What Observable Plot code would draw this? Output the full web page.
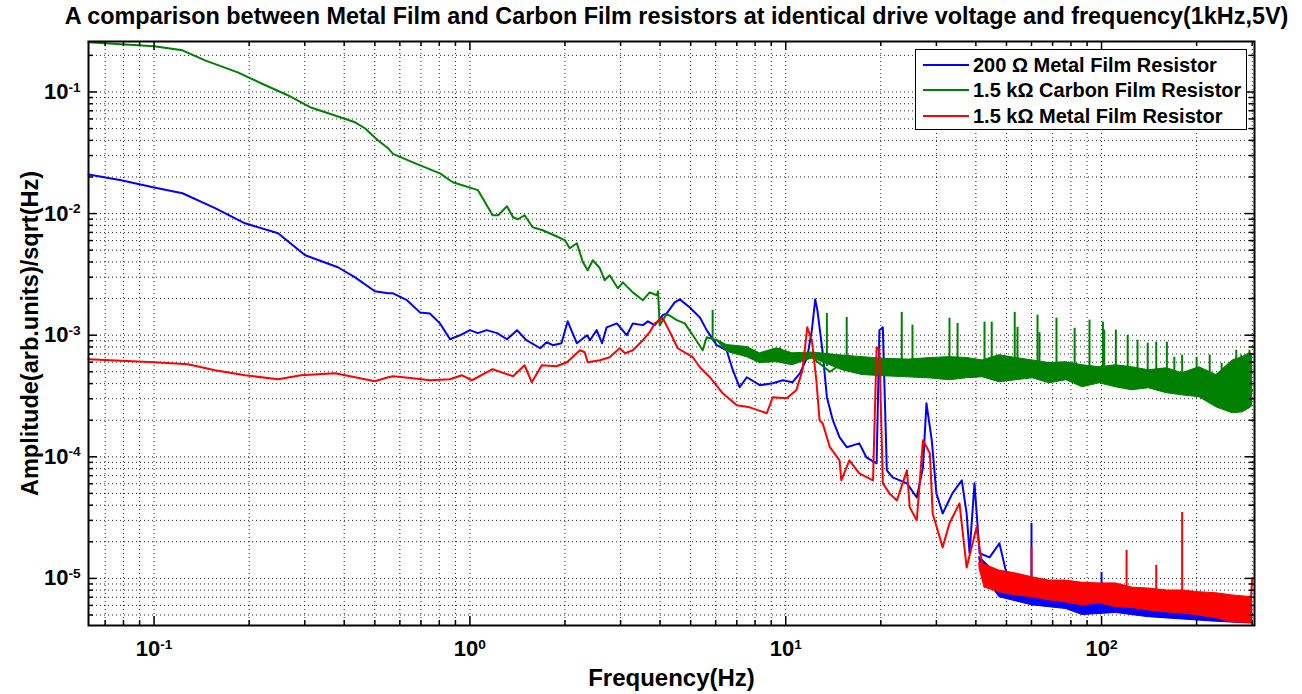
<!DOCTYPE html>
<html><head><meta charset="utf-8">
<script src="https://cdn.jsdelivr.net/npm/d3@7"></script>
<script src="https://cdn.jsdelivr.net/npm/@observablehq/plot@0.6"></script>
<style>
body{margin:0;background:#fff;font-family:"Liberation Sans",Arial,sans-serif;}
#wrap{position:relative;width:1302px;height:694px;overflow:hidden;}
#legend{position:absolute;left:915px;top:49px;width:332px;height:81px;border:1px solid #000;background:#fff;box-sizing:border-box;font-weight:bold;font-size:20px;color:#000;}
.row{position:absolute;left:0;height:24px;display:flex;align-items:center;white-space:nowrap;}
.sw{width:46px;height:0;border-top:2px solid;margin-left:7px;margin-right:4px;}
</style></head><body><div id="wrap"></div>
<script>
// ---- data ----
const title = "A comparison between Metal Film and Carbon Film resistors at identical drive voltage and frequency(1kHz,5V)";
const xLabel = "Frequency(Hz)";
const yLabel = "Amplitude(arb.units)/sqrt(Hz)";
const seriesNames = ["200 \u03A9 Metal Film Resistor", "1.5 k\u03A9 Carbon Film Resistor", "1.5 k\u03A9 Metal Film Resistor"];
const seriesColors = ["#0000ff", "#008000", "#ff0000"];

const xMajor = [0.1, 1, 10, 100];
const xMinor = [0.07, 0.08, 0.09, 0.2, 0.3, 0.4, 0.5, 0.6, 0.7, 0.8, 0.9, 2, 3, 4, 5, 6, 7, 8, 9, 20, 30, 40, 50, 60, 70, 80, 90, 200, 300];
const yMajor = [1e-5, 1e-4, 1e-3, 1e-2, 1e-1];
const yMinor = [5e-6, 6e-6, 7e-6, 8e-6, 9e-6, 2e-5, 3e-5, 4e-5, 5e-5, 6e-5, 7e-5, 8e-5, 9e-5, 2e-4, 3e-4, 4e-4, 5e-4, 6e-4, 7e-4, 8e-4, 9e-4, 2e-3, 3e-3, 4e-3, 5e-3, 6e-3, 7e-3, 8e-3, 9e-3, 2e-2, 3e-2, 4e-2, 5e-2, 6e-2, 7e-2, 8e-2, 9e-2, 2e-1];

// 200 ohm metal film (blue)
const blueFreq = [0.062, 0.0787, 0.1, 0.123, 0.156, 0.194, 0.247, 0.301, 0.382, 0.433, 0.5, 0.551, 0.571, 0.632, 0.695, 0.747, 0.804, 0.865, 0.93, 1.0, 1.06, 1.13, 1.22, 1.31, 1.41, 1.51, 1.67, 1.75, 1.83, 1.95, 2.04, 2.18, 2.35, 2.40, 2.52, 2.62, 2.71, 2.92, 3.14, 3.28, 3.53, 3.66, 3.85, 4.08, 4.20, 4.45, 4.62, 4.97, 5.35, 5.62, 6.05, 6.50, 6.80, 7.15, 7.53, 8.28, 9.10, 9.79, 10.5, 11.1, 11.7, 12.1, 12.4, 12.6, 13.1, 13.5, 14.1, 14.8, 15.6, 17.1, 18.0, 19.4, 19.8, 20.3, 20.9, 21.8, 24.2, 26.0, 27.2, 27.9, 29.0, 30.0, 31.4, 33.7, 36.1, 37.4, 38.2, 39.6, 41.1, 44.2, 47.5, 50, 55, 62, 70, 80, 87, 95, 104, 120, 140, 160, 180, 200, 230, 260, 300];
const blueAmp = [0.021, 0.0188, 0.0164, 0.0147, 0.0111, 0.00832, 0.00689, 0.00454, 0.00362, 0.00299, 0.0023, 0.00221, 0.00221, 0.00194, 0.00154, 0.00151, 0.00125, 0.000926, 0.000998, 0.0011, 0.00104, 0.0011, 0.00104, 0.000926, 0.0011, 0.000909, 0.000781, 0.000875, 0.000827, 0.000859, 0.0013, 0.000859, 0.000998, 0.000909, 0.0011, 0.000859, 0.00116, 0.00125, 0.000998, 0.00125, 0.00121, 0.0013, 0.00121, 0.00146, 0.00151, 0.00186, 0.00197, 0.00169, 0.0014, 0.0011, 0.000827, 0.000752, 0.000515, 0.000373, 0.000451, 0.000388, 0.000402, 0.000426, 0.00041, 0.000487, 0.000659, 0.0011, 0.00197, 0.0016, 0.000711, 0.000309, 0.0002, 0.000145, 0.00012, 0.000129, 0.0000991, 0.0000884, 0.0011, 0.00116, 0.0000774, 0.0000678, 0.0000605, 0.0000463, 0.0000819, 0.000275, 0.000137, 0.00005, 0.0000342, 0.00005, 0.000064, 0.0000342, 0.0000161, 0.0000605, 0.0000161, 0.0000149, 0.0000194, 0.000011, 0.0000105, 0.0000095, 0.000009, 0.0000085, 0.000006, 0.000008, 0.0000075, 0.000007, 0.0000065, 0.000006, 0.0000055, 0.0000058, 0.000005, 0.0000052, 0.000005];
const blueBandFreq = [41.1, 44.2, 47.5, 60.5, 77.3, 87.1, 111, 141, 180, 231, 300];
const blueBandHigh = [1.5e-5, 1.25e-5, 1.05e-5, 9.0e-6, 8.5e-6, 8.0e-6, 8.0e-6, 7.2e-6, 7.0e-6, 6.5e-6, 6.0e-6];
const blueBandLow = [1.4e-5, 9.0e-6, 7.0e-6, 6.0e-6, 5.6e-6, 5.0e-6, 5.2e-6, 4.8e-6, 4.6e-6, 4.4e-6, 4.25e-6];
const blueSpikeFreq = [60, 100];
const blueSpikePeak = [2.84e-5, 1.12e-5];
const blueSpikeBase = [9e-6, 7.5e-6];

// 1.5 kohm carbon film (green)
const greenFreq = [0.062, 0.0787, 0.1, 0.123, 0.145, 0.184, 0.218, 0.265, 0.312, 0.356, 0.433, 0.465, 0.511, 0.551, 0.571, 0.66, 0.804, 0.883, 1.06, 1.18, 1.23, 1.31, 1.37, 1.42, 1.49, 1.58, 1.70, 1.88, 2.0, 2.07, 2.18, 2.28, 2.36, 2.45, 2.58, 2.67, 2.77, 2.94, 3.05, 3.28, 3.53, 3.71, 3.91, 3.94, 3.99, 4.20, 4.52, 4.79, 5.08, 5.46, 5.62, 6.05, 6.50, 7.15, 7.53, 8.28, 9.10, 9.57, 10.5, 11.1, 12.2, 13.8, 15.1, 16.3, 17.5, 18.9, 19.8, 22.5, 24.2, 26.6, 29.2, 33.8, 37.4, 43.6, 47.5, 55, 65, 75, 86, 96, 105, 115, 125, 135, 144, 155, 165, 175, 190, 210, 230, 255, 280, 300];
const greenAmp = [0.256, 0.247, 0.238, 0.220, 0.182, 0.145, 0.118, 0.094, 0.0749, 0.0668, 0.0563, 0.0503, 0.0401, 0.0344, 0.031, 0.0264, 0.0214, 0.0181, 0.0156, 0.00969, 0.00969, 0.0115, 0.00933, 0.00898, 0.00969, 0.00771, 0.00729, 0.00651, 0.00603, 0.00519, 0.0057, 0.00398, 0.00342, 0.00413, 0.00355, 0.00283, 0.00311, 0.00243, 0.00272, 0.00225, 0.00194, 0.00225, 0.00213, 0.0023, 0.0012, 0.0015, 0.00133, 0.00125, 0.000998, 0.000752, 0.000962, 0.000909, 0.000796, 0.000711, 0.000796, 0.000599, 0.000659, 0.000781, 0.000623, 0.000711, 0.000647, 0.0005, 0.000588, 0.00052, 0.000623, 0.000487, 0.000588, 0.000545, 0.00048, 0.00052, 0.000588, 0.00055, 0.000545, 0.0005, 0.000515, 0.00052, 0.00048, 0.0005, 0.00047, 0.00048, 0.00045, 0.00046, 0.00044, 0.00043, 0.00042, 0.00041, 0.0004, 0.00038, 0.00037, 0.00036, 0.00033, 0.00032, 0.00031, 0.00035];
const greenBandFreq = [6.05, 6.5, 7.53, 8.28, 9.37, 10.5, 12.2, 15.1, 17.5, 20.3, 24.5, 29, 33, 37.4, 42, 47.5, 53.5, 60.5, 68.4, 77.3, 87.1, 98.6, 111, 125, 141, 161, 180, 204, 231, 260, 280, 294, 300];
const greenBandHigh = [9.2e-4, 8.3e-4, 8.0e-4, 7.1e-4, 7.8e-4, 7.1e-4, 7.2e-4, 6.8e-4, 6.6e-4, 6.4e-4, 6.3e-4, 6.5e-4, 6.6e-4, 6.5e-4, 6.2e-4, 6.85e-4, 6.5e-4, 6.2e-4, 5.9e-4, 6.0e-4, 5.66e-4, 5.45e-4, 5.66e-4, 5.45e-4, 5.15e-4, 5.35e-4, 4.87e-4, 5.45e-4, 4.7e-4, 6.2e-4, 6.6e-4, 7.1e-4, 7.0e-4];
const greenBandLow = [9.0e-4, 7.3e-4, 6.6e-4, 5.9e-4, 6.0e-4, 5.66e-4, 6.47e-4, 5.15e-4, 4.7e-4, 4.6e-4, 4.5e-4, 4.4e-4, 4.26e-4, 4.42e-4, 4.51e-4, 4.1e-4, 4.26e-4, 4.42e-4, 4.02e-4, 4.26e-4, 3.73e-4, 4.02e-4, 3.73e-4, 3.52e-4, 3.66e-4, 3.33e-4, 3.2e-4, 3.09e-4, 2.55e-4, 2.28e-4, 2.32e-4, 2.5e-4, 2.6e-4];
const greenSpikeFreq = [5.87, 13.5, 15.6, 23.3, 25.2, 33.0, 35.0, 42.6, 44.9, 53.1, 54.2, 62.7, 63.6, 72.0, 82.2, 91.6, 101, 102, 111, 121, 130, 140, 149, 161, 170, 180, 200, 220, 240, 267, 277, 294];
const greenSpikePeak = [0.0016, 0.00151, 0.0014, 0.00154, 0.00121, 0.00138, 0.00125, 0.00128, 0.00128, 0.00154, 0.00116, 0.00146, 0.00105, 0.00138, 0.00114, 0.00133, 0.00128, 0.0011, 0.0011, 0.000998, 0.000909, 0.000859, 0.000875, 0.000875, 0.000659, 0.000685, 0.000659, 0.000685, 0.000588, 0.000752, 0.000685, 0.000752];
const greenSpikeBase = [0.0009, 0.00055, 0.00055, 0.0005, 0.0005, 0.0005, 0.0005, 0.0005, 0.0005, 0.0005, 0.0005, 0.00049, 0.00049, 0.00048, 0.00048, 0.00047, 0.00046, 0.00046, 0.00045, 0.00044, 0.00043, 0.00042, 0.00041, 0.0004, 0.00039, 0.00038, 0.00036, 0.00035, 0.00033, 0.00032, 0.00032, 0.00033];

// 1.5 kohm metal film (red)
const redFreq = [0.062, 0.1, 0.128, 0.156, 0.194, 0.247, 0.292, 0.374, 0.433, 0.5, 0.551, 0.571, 0.66, 0.747, 0.865, 0.944, 1.015, 1.18, 1.37, 1.49, 1.57, 1.69, 1.88, 2.03, 2.23, 2.31, 2.36, 2.58, 2.77, 2.98, 3.10, 3.28, 3.53, 3.71, 3.85, 4.08, 4.30, 4.55, 5.08, 5.35, 5.75, 6.32, 7.0, 7.69, 8.71, 9.10, 10.07, 10.8, 11.3, 11.7, 12.1, 12.5, 12.8, 13.1, 13.8, 14.8, 15.0, 15.9, 17.1, 18.9, 19.4, 19.8, 20.3, 21.3, 22.5, 24.2, 24.7, 26.0, 27.2, 28.6, 29.2, 31.4, 33.0, 35.5, 37.4, 40.2, 42.0, 45, 50, 55, 62, 75, 90, 110, 123, 140, 152, 170, 183, 220, 260, 295, 300];
const redAmp = [0.000635, 0.000599, 0.000577, 0.000515, 0.000468, 0.000434, 0.000468, 0.000487, 0.000451, 0.000418, 0.000451, 0.000459, 0.000442, 0.000426, 0.000434, 0.000468, 0.000426, 0.000525, 0.000459, 0.000566, 0.00041, 0.000566, 0.000555, 0.000599, 0.000752, 0.000724, 0.000599, 0.000623, 0.000659, 0.000781, 0.000711, 0.000752, 0.000909, 0.00106, 0.00125, 0.00138, 0.00106, 0.000781, 0.000659, 0.000545, 0.000451, 0.000333, 0.000265, 0.000255, 0.000228, 0.000309, 0.000303, 0.000352, 0.000515, 0.00116, 0.000909, 0.000426, 0.0002, 0.000188, 0.00012, 0.0000935, 0.000064, 0.0000935, 0.0000731, 0.000064, 0.000796, 0.000752, 0.0000605, 0.00005, 0.0000438, 0.0000774, 0.0000384, 0.00003, 0.000137, 0.000107, 0.0000342, 0.000018, 0.0000284, 0.0000414, 0.0000123, 0.0000263, 0.0000123, 0.00001, 0.0000095, 0.000009, 0.0000085, 0.000008, 0.0000075, 0.0000072, 0.000007, 0.0000068, 0.0000066, 0.0000064, 0.0000062, 0.0000058, 0.0000055, 0.0000052, 0.00001];
const redBandFreq = [41.1, 42.6, 47.5, 53.5, 60.5, 68.4, 77.3, 87.1, 98.6, 111, 125, 141, 161, 180, 204, 231, 260, 300];
const redBandHigh = [1.35e-5, 1.3e-5, 1.16e-5, 1.1e-5, 1.02e-5, 9.6e-6, 9.6e-6, 9.2e-6, 9.1e-6, 9.1e-6, 8.4e-6, 8.25e-6, 7.95e-6, 7.95e-6, 7.7e-6, 7.55e-6, 7.25e-6, 7.0e-6];
const redBandLow = [1.2e-5, 8.4e-6, 7.7e-6, 7.25e-6, 7.0e-6, 6.6e-6, 6.35e-6, 6.0e-6, 6.25e-6, 5.8e-6, 5.7e-6, 5.45e-6, 5.25e-6, 5.15e-6, 4.95e-6, 4.7e-6, 4.35e-6, 4.3e-6];
const redSpikeFreq = [60, 120, 149, 180];
const redSpikePeak = [1.8e-5, 1.7e-5, 1.28e-5, 3.49e-5];
const redSpikeBase = [8.5e-6, 7e-6, 6.8e-6, 6.3e-6];

// ---- build tables ----
const pts = (f, v) => f.map((x, i) => ({f: x, v: v[i]}));
const band = (f, lo, hi) => f.map((x, i) => ({f: x, lo: lo[i], hi: hi[i]}));
const spikes = (f, b, p) => f.map((x, i) => ({f: x, base: b[i], peak: p[i]}));

const W = 1302, H = 694, mL = 88, mR = 48, mT = 41, mB = 69;
const plotW = W - mL - mR, plotH = H - mT - mB;
const majorLen = 9, minorLen = 5;
const fmt = d => "10^" + Math.round(Math.log10(d));
const gridStyle = {stroke: "#000", strokeOpacity: 0.85, strokeWidth: 1, strokeDasharray: "1,3"};
const labelFont = {fontWeight: "bold", fill: "#000", textAnchor: "middle", lineAnchor: "middle"};

function seriesMarks(c, line, bnd, spk) {
  return [
    Plot.areaY(bnd, {x: "f", y1: "lo", y2: "hi", fill: c, stroke: c, strokeWidth: 1}),
    Plot.lineY(line, {x: "f", y: "v", stroke: c, strokeWidth: 2}),
    Plot.ruleX(spk, {x: "f", y1: "base", y2: "peak", stroke: c, strokeWidth: 2})
  ];
}

const chart = Plot.plot({
  width: W, height: H,
  marginLeft: mL, marginRight: mR, marginTop: mT, marginBottom: mB,
  style: {fontFamily: "'Liberation Sans', Arial, sans-serif", fontSize: "22px", fontWeight: "bold", background: "#fff", color: "#000"},
  x: {type: "log", domain: [0.062, 305], label: null},
  y: {type: "log", domain: [4.1e-6, 0.26], label: null},
  marks: [
    Plot.ruleX([...xMajor, ...xMinor], {x: d => d, ...gridStyle}),
    Plot.ruleY([...yMajor, ...yMinor], {y: d => d, ...gridStyle}),
    ...seriesMarks(seriesColors[0], pts(blueFreq, blueAmp), band(blueBandFreq, blueBandLow, blueBandHigh), spikes(blueSpikeFreq, blueSpikeBase, blueSpikePeak)),
    ...seriesMarks(seriesColors[1], pts(greenFreq, greenAmp), band(greenBandFreq, greenBandLow, greenBandHigh), spikes(greenSpikeFreq, greenSpikeBase, greenSpikePeak)),
    ...seriesMarks(seriesColors[2], pts(redFreq, redAmp), band(redBandFreq, redBandLow, redBandHigh), spikes(redSpikeFreq, redSpikeBase, redSpikePeak)),
    // inward ticks (MATLAB style)
    Plot.tickX(xMajor, {x: d => d, insetTop: plotH - majorLen, stroke: "#000", strokeWidth: 1.5}),
    Plot.tickX(xMajor, {x: d => d, insetBottom: plotH - majorLen, stroke: "#000", strokeWidth: 1.5}),
    Plot.tickX(xMinor, {x: d => d, insetTop: plotH - minorLen, stroke: "#000", strokeWidth: 1.5}),
    Plot.tickX(xMinor, {x: d => d, insetBottom: plotH - minorLen, stroke: "#000", strokeWidth: 1.5}),
    Plot.tickY(yMajor, {y: d => d, insetRight: plotW - majorLen, stroke: "#000", strokeWidth: 1.5}),
    Plot.tickY(yMajor, {y: d => d, insetLeft: plotW - majorLen, stroke: "#000", strokeWidth: 1.5}),
    Plot.tickY(yMinor, {y: d => d, insetRight: plotW - minorLen, stroke: "#000", strokeWidth: 1.5}),
    Plot.tickY(yMinor, {y: d => d, insetLeft: plotW - minorLen, stroke: "#000", strokeWidth: 1.5}),
    Plot.axisX({ticks: xMajor, tickSize: 0, tickPadding: 15, tickFormat: fmt, label: null}),
    Plot.axisY({ticks: yMajor, tickSize: 0, tickPadding: 8, tickFormat: fmt, label: null}),
    Plot.frame({stroke: "#000", strokeWidth: 2}),
    Plot.text([title], {text: d => d, frameAnchor: "top", dx: 5, dy: -25, fontSize: 23.4, ...labelFont}),
    Plot.text([xLabel], {text: d => d, frameAnchor: "bottom", dy: 53, fontSize: 24, ...labelFont}),
    Plot.text([yLabel], {text: d => d, frameAnchor: "left", dx: -58, rotate: -90, fontSize: 23.5, ...labelFont})
  ]
});

// superscript exponents on the log tick labels
const NS = "http://www.w3.org/2000/svg";
chart.querySelectorAll("text").forEach(t => {
  const m = /^10\^(-?\d+)$/.exec(t.textContent);
  if (m) {
    t.textContent = "10";
    const s = document.createElementNS(NS, "tspan");
    s.setAttribute("dy", "-0.55em");
    s.setAttribute("font-size", "0.62em");
    s.textContent = m[1];
    t.appendChild(s);
  }
});

const wrap = document.getElementById("wrap");
wrap.appendChild(chart);

// legend
const leg = document.createElement("div");
leg.id = "legend";
const rowTops = [3, 28, 54];
seriesNames.forEach((name, i) => {
  const r = document.createElement("div");
  r.className = "row";
  r.style.top = rowTops[i] + "px";
  const sw = document.createElement("span");
  sw.className = "sw";
  sw.style.borderTopColor = seriesColors[i];
  const tx = document.createElement("span");
  tx.textContent = name;
  r.appendChild(sw); r.appendChild(tx);
  leg.appendChild(r);
});
wrap.appendChild(leg);
</script>
</body></html>
